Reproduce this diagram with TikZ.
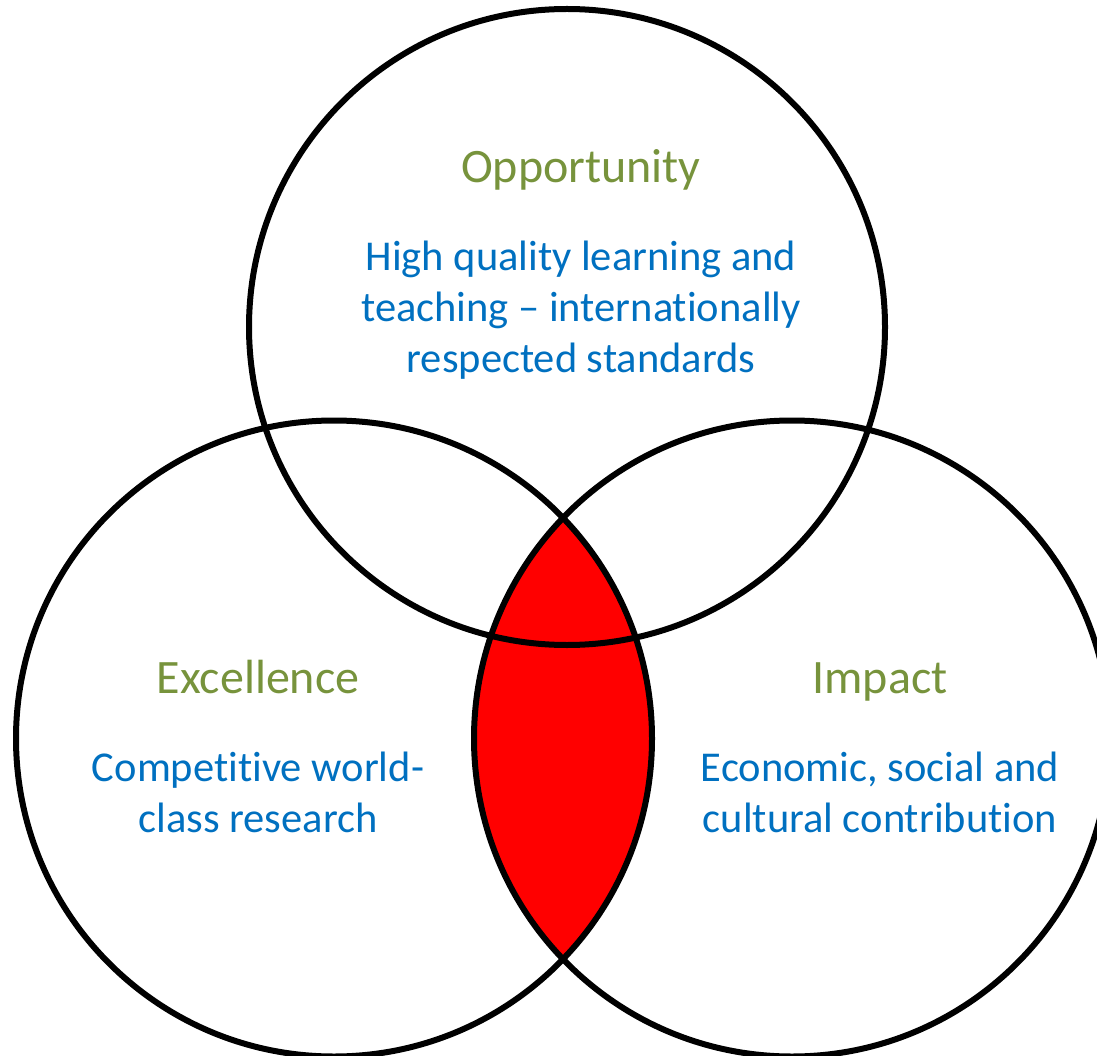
\documentclass[tikz,border=0pt]{standalone}
\usepackage{fontspec}
\setmainfont{Carlito}[Ligatures=NoCommon]
\definecolor{ttlgreen}{HTML}{77933C}
\definecolor{txtblue}{HTML}{0070C0}
\begin{document}
\begin{tikzpicture}[x=1pt,y=-1pt,
  ring/.style={draw=black,line width=6pt},
  ttl/.style={text=ttlgreen,font=\fontsize{48}{58}\selectfont,inner sep=0pt,anchor=base},
  body/.style={text=txtblue,font=\fontsize{42.5}{51}\selectfont,align=center,inner sep=0pt,anchor=base}]
\useasboundingbox (0,0) rectangle (1097,1056);
\clip (0,0) rectangle (1097,1056);
\coordinate (cT) at (567,327);
\coordinate (cL) at (334,738.5);
\coordinate (cR) at (792,738.5);
\begin{scope}
  \clip (cL) circle[radius=318pt];
  \fill[red] (cR) circle[radius=318pt];
\end{scope}
\draw[ring] (cT) circle[radius=318pt];
\draw[ring] (cL) circle[radius=318pt];
\draw[ring] (cR) circle[radius=318pt];
\node[ttl] (opp) at (581,183) {Opportunity};
\node[body] (oppt) at (581,372) {High quality learning and\\teaching – internationally\\respected standards};
\node[ttl] (exc) at (258,693) {Excellence};
\node[body] (exct) at (258,832) {Competitive world-\\class research};
\node[ttl] (imp) at (880,693) {Impact};
\node[body] (impt) at (880,832) {Economic, social and\\cultural contribution};
\end{tikzpicture}
\end{document}
